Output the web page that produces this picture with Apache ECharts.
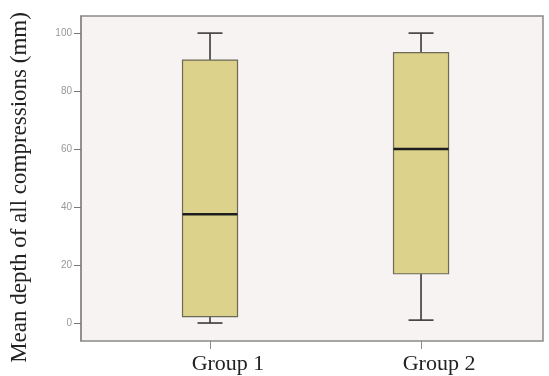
<!DOCTYPE html>
<html>
<head>
<meta charset="utf-8">
<script src="https://cdn.jsdelivr.net/npm/echarts@6/dist/echarts.min.js"></script>
<style>
html,body{margin:0;padding:0;background:#fff;}
#chart{width:549px;height:376px;}
</style>
</head>
<body>
<div id="chart"></div>
<script>
// Groups and their five-number summaries (mm)
const groups = ['Group 1', 'Group 2'];
const groupPos = [1, 2];
const whiskerLow = [0, 1];
const quartile1 = [2.2, 17];
const medians = [37.5, 60];
const quartile3 = [90.7, 93.3];
const whiskerHigh = [100, 100];
const yTicks = [0, 20, 40, 60, 80, 100];

const boxData = groups.map((g, i) => [groupPos[i], whiskerLow[i], quartile1[i], medians[i], quartile3[i], whiskerHigh[i]]);

const BOX_W = 55, CAP_W = 25;

function renderBox(params, api) {
  const x = api.value(0);
  const pLo = api.coord([x, api.value(1)]);
  const pQ1 = api.coord([x, api.value(2)]);
  const pMed = api.coord([x, api.value(3)]);
  const pQ3 = api.coord([x, api.value(4)]);
  const pHi = api.coord([x, api.value(5)]);
  const cx = pMed[0];
  const lineStyle = { stroke: '#3a3a3a', lineWidth: 1.6 };
  return {
    type: 'group',
    children: [
      { type: 'line', shape: { x1: cx, y1: pHi[1], x2: cx, y2: pQ3[1] }, style: lineStyle },
      { type: 'line', shape: { x1: cx, y1: pQ1[1], x2: cx, y2: pLo[1] }, style: lineStyle },
      { type: 'line', shape: { x1: cx - CAP_W / 2, y1: pHi[1], x2: cx + CAP_W / 2, y2: pHi[1] }, style: lineStyle },
      { type: 'line', shape: { x1: cx - CAP_W / 2, y1: pLo[1], x2: cx + CAP_W / 2, y2: pLo[1] }, style: lineStyle },
      { type: 'rect', shape: { x: cx - BOX_W / 2, y: pQ3[1], width: BOX_W, height: pQ1[1] - pQ3[1] },
        style: { fill: '#dcd28c', stroke: '#6b6a55', lineWidth: 1.2 } },
      { type: 'line', shape: { x1: cx - BOX_W / 2, y1: pMed[1], x2: cx + BOX_W / 2, y2: pMed[1] },
        style: { stroke: '#1e1e1e', lineWidth: 2.4 } }
    ]
  };
}

const chart = echarts.init(document.getElementById('chart'), null, { renderer: 'canvas' });
chart.setOption({
  animation: false,
  backgroundColor: '#ffffff',
  grid: {
    left: 81, top: 16, right: 6, bottom: 35,
    outerBoundsMode: 'none', containLabel: false,
    show: true, backgroundColor: '#f7f3f3', borderColor: '#8a8a8a', borderWidth: 1.5
  },
  xAxis: {
    type: 'value',
    min: 0.3886, max: 2.578,
    splitLine: { show: false },
    axisLine: { show: false, onZero: false },
    axisTick: { show: true, customValues: groupPos, length: 8, lineStyle: { color: '#8a8a8a', width: 1 } },
    axisLabel: {
      customValues: groupPos,
      formatter: v => groups[groupPos.indexOf(Math.round(v))] || '',
      fontFamily: 'Liberation Serif', fontSize: 22, color: '#222', margin: 12,
      padding: [0, 0, 0, 36]
    }
  },
  yAxis: {
    type: 'value',
    min: -6.2, max: 105.9,
    name: 'Mean depth of all compressions (mm)',
    nameLocation: 'middle', nameGap: 50,
    nameTextStyle: { fontFamily: 'Liberation Serif', fontSize: 23, color: '#222', padding: [0, 18, 0, 0] },
    splitLine: { show: false },
    axisLine: { show: true, onZero: false, lineStyle: { color: '#8a8a8a', width: 1.5 } },
    axisTick: { show: true, customValues: yTicks, length: 7, lineStyle: { color: '#777', width: 1 } },
    axisLabel: { customValues: yTicks, fontSize: 10, color: '#999', margin: 9, fontFamily: 'Arial' }
  },
  series: [{
    type: 'custom',
    renderItem: renderBox,
    data: boxData,
    encode: { x: 0, y: [1, 2, 3, 4, 5] },
    z: 3
  }]
});
</script>
</body>
</html>
